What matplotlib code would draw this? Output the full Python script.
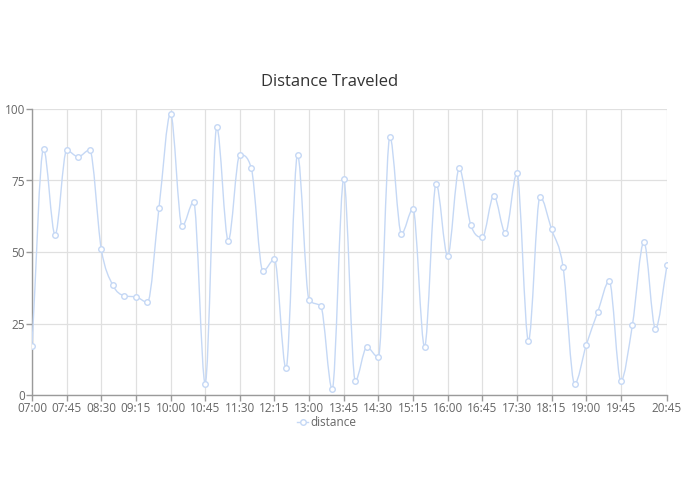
import numpy as np
import matplotlib
matplotlib.use("Agg")
import matplotlib.pyplot as plt
from matplotlib.path import Path
from matplotlib.patches import PathPatch
from matplotlib.lines import Line2D

# ---- data ----
start_minutes = 7 * 60
step_minutes = 15
distance = [17, 86, 56, 85.5, 83.3, 85.7, 51, 38.4, 34.7, 34.3, 32.4, 65.5, 98.4, 59, 67.5, 4,
            93.6, 54, 84, 79.2, 43.3, 47.4, 9.3, 84, 33.3, 31.2, 2, 75.4, 5, 16.7, 13.2, 90.3,
            56.4, 65.1, 16.9, 73.9, 48.6, 79.2, 59.5, 55.1, 69.7, 56.7, 77.5, 19, 69.3, 57.9,
            44.7, 3.9, 17.4, 29, 39.8, 4.9, 24.4, 53.5, 23.2, 45.4]
n = len(distance)
times = [f"{(start_minutes + i*step_minutes)//60:02d}:{(start_minutes + i*step_minutes)%60:02d}" for i in range(n)]
y_ticks = [0, 25, 50, 75, 100]
series_name = "distance"
title = "Distance Traveled"

W, H = 695, 494
fig = plt.figure(figsize=(W/100, H/100), dpi=100)
L, R, T, B = 32, 667, 109, 395
ax = fig.add_axes([L/W, 1 - B/H, (R-L)/W, (B-T)/H])

font = "Open Sans"
line_color = "#c5d8f5"
grid_color = "#e0e0e0"
axis_color = "#9a9a9a"
text_color = "#666666"

x = np.arange(n, dtype=float)
y = np.array(distance, dtype=float)

# Monotone cubic (Fritsch-Carlson) bezier path
dk = np.diff(y) / np.diff(x)
m = np.zeros(n)
m[0] = dk[0]
m[-1] = dk[-1]
for i in range(1, n - 1):
    if np.sign(dk[i-1]) != np.sign(dk[i]) or dk[i-1] == 0 or dk[i] == 0:
        m[i] = 0.0
    else:
        m[i] = (dk[i-1] + dk[i]) / 2
for i in range(n - 1):
    if dk[i] == 0:
        m[i] = m[i+1] = 0.0
        continue
    a = m[i] / dk[i]; b = m[i+1] / dk[i]
    sq = a*a + b*b
    if sq > 9:
        tau = 3 / np.sqrt(sq)
        m[i] = a * tau * dk[i]
        m[i+1] = b * tau * dk[i]

verts = [(x[0], y[0])]
codes = [Path.MOVETO]
for i in range(n - 1):
    d = (x[i+1] - x[i]) / 3
    verts += [(x[i] + d, y[i] + d*m[i]), (x[i+1] - d, y[i+1] - d*m[i+1]), (x[i+1], y[i+1])]
    codes += [Path.CURVE4]*3
ax.add_patch(PathPatch(Path(verts, codes), facecolor="none", edgecolor=line_color, lw=1.0, zorder=3))
ax.plot(x, y, linestyle="none", marker="o", ms=4, mfc="white", mec=line_color, mew=1.0, zorder=4)

ax.set_xlim(0, n - 1)
ax.set_ylim(0, 100)
xt = list(range(0, n - 3, 3)) + [n - 1]
ax.set_xticks(xt)
ax.set_xticklabels([times[i] for i in xt], fontsize=8.5, color=text_color, family=font)
ax.set_yticks(y_ticks)
ax.set_yticklabels([str(v) for v in y_ticks], fontsize=8.5, color=text_color, family=font)
ax.grid(True, color=grid_color, lw=0.9)
ax.set_axisbelow(True)
for s in ["top", "right"]:
    ax.spines[s].set_visible(False)
for s in ["left", "bottom"]:
    ax.spines[s].set_color(axis_color)
    ax.spines[s].set_linewidth(1.0)
ax.tick_params(axis="both", color=axis_color, length=4, width=1, pad=1)

fig.text(330/W, 1 - 82/H, title, ha="center", va="center", fontsize=12, color="#333333", family=font)
fig.add_artist(Line2D([297/W, 308/W], [1 - 422/H]*2, color=line_color, lw=1, transform=fig.transFigure))
fig.add_artist(Line2D([302.5/W], [1 - 422/H], marker="o", ms=4, mfc="white", mec=line_color, transform=fig.transFigure))
fig.text(310/W, 1 - 422/H, series_name, ha="left", va="center", fontsize=8.5, color=text_color, family=font)

fig.savefig("out.png", dpi=100, facecolor="white")
